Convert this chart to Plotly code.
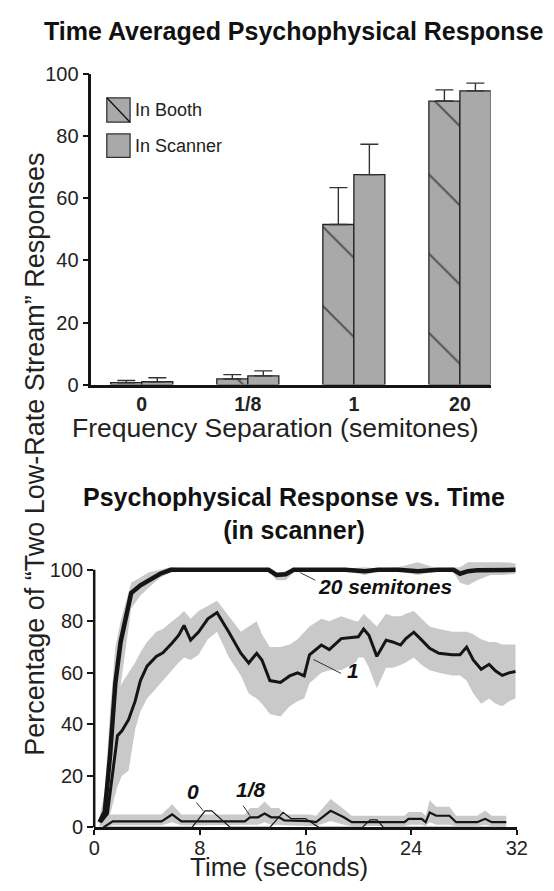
import plotly.graph_objects as go

W, H = 554, 891
FONT = "Liberation Sans, Arial, sans-serif"

# ---------------- data: top bar chart ----------------
categories = ["0", "1/8", "1", "20"]
booth = [0.6, 1.8, 51.6, 91.4]
booth_err = [0.7, 1.4, 11.9, 3.6]
scanner = [0.9, 2.8, 67.7, 94.7]
scanner_err = [1.3, 1.6, 9.8, 2.5]

# ---------------- data: time courses ----------------
t20 = [0.4, 0.8, 1.2, 1.6, 2.0, 2.8, 3.5, 4.1, 5.0, 5.8, 7, 9, 11, 13.2, 13.8, 14.5, 15.1, 15.7,
       17, 19, 20.5, 21.5, 23, 24.5, 26, 27.2, 27.7, 28.3, 29, 30, 31, 31.9]
v20 = [2, 6, 28, 56, 72, 91, 94, 96, 98.5, 100, 100, 100, 100, 100, 98, 98.3, 100, 100,
       100, 100, 99.5, 100, 100, 99.5, 100, 100, 98.5, 99.5, 99.8, 100, 100, 100]
lo20 = [0, 2, 10, 35, 55, 85, 90, 93, 97, 99, 99.5, 99.5, 99.5, 99.5, 96, 96, 99, 99.5,
        99.5, 99.5, 98, 99.5, 99.5, 98, 99.5, 99, 95, 94, 96, 98, 98, 98.5]
hi20 = [4, 14, 45, 70, 80, 95, 97, 99, 100, 101, 100.5, 100.5, 100.5, 100.5, 99, 99.5, 100.5, 100.5,
        100.5, 100.5, 101, 100.5, 101, 103, 100.5, 101, 101, 103, 103, 103, 103, 102.5]

t1 = [0.5, 1.0, 1.76, 2.1, 2.6, 3.1, 3.5, 4.0, 4.7, 5.2, 5.9, 6.4, 6.8, 7.3, 7.9, 8.6, 9.3,
      10.2, 11.1, 11.7, 12.3, 12.7, 13.3, 14.1, 14.8, 15.4, 15.9, 16.3, 17.2, 17.8, 18.7,
      19.8, 20.0, 20.4, 20.8, 21.4, 22.1, 22.6, 23.2, 23.6, 24.2, 24.8, 25.4, 26.1, 27.1,
      27.7, 28.2, 28.7, 29.3, 29.9, 30.4, 30.9, 31.4, 31.9]
v1 = [2, 5.3, 35.6, 37.5, 41.8, 49, 57, 62.6, 66.4, 67.8, 71.6, 74.6, 78.4, 72.7, 75.8, 81, 83.4,
      75.8, 67.6, 63.8, 67.6, 65, 57, 56.3, 58.8, 60, 58.8, 67, 70.8, 69, 73.3,
      73.9, 74, 77, 74.6, 66.4, 72.7, 72, 70.8, 73.3, 75.8, 72.7, 69.5, 67.6, 67,
      67, 70, 65, 61.4, 63.3, 60.7, 59, 60, 60.5]
lo1 = [0, 1, 16, 20, 22, 38, 45, 50, 54, 57, 61, 64, 66, 65, 67, 73, 76,
       66, 59, 52, 50, 48, 44, 43, 47, 49, 50, 56, 60, 61, 61,
       64, 66, 66, 62, 54, 62, 62, 63, 64, 66, 63, 61, 60, 59,
       59, 57, 52, 48, 50, 48, 47, 49, 50]
hi1 = [4, 12, 52, 56, 60, 64, 68, 72, 76, 77, 80, 82, 84, 81, 84, 86, 88,
       82, 76, 78, 80, 75, 70, 70, 71, 73, 76, 78, 81, 80, 82,
       80, 80, 83, 81, 78, 83, 82, 82, 83, 84, 81, 78, 77, 76,
       76, 76, 75, 73, 72, 72, 71, 71, 71]

t8 = [0.7, 1.4, 5.1, 5.9, 6.6, 11.4, 11.8, 12.4, 12.9, 13.4, 14.0, 14.4, 16.3, 16.8, 17.9,
      18.9, 19.5, 23.5, 23.8, 24.8, 25.1, 25.4, 25.9, 26.9, 27.4, 29.0, 29.6, 30.1, 31.2]
v8 = [0, 2.3, 2.3, 5, 2.3, 2.3, 3.9, 3.9, 5.4, 3.9, 3.9, 2.7, 2.4, 2.0, 6.4,
      3.9, 2.0, 2.0, 3.3, 3.3, 2.0, 5.8, 4.5, 4.5, 2.0, 2.0, 3.3, 2.0, 2.0]
lo8 = [0, 0.8, 0.8, 2, 0.8, 0.8, 1, 1, 2, 1, 1, 0.8, 0.5, 0.5, 2.5,
       1, 0.5, 0.5, 1, 1, 0.5, 2, 1, 1, 0.5, 0.5, 1, 0.5, 0.5]
hi8 = [5, 5, 5, 9, 5, 5, 7.5, 7.5, 10, 7.5, 7.5, 5, 5, 4.5, 11,
       7, 4.5, 4.5, 6, 6, 4.5, 10.5, 8, 8, 4.5, 4.5, 6.5, 4.5, 4.5]

t0 = [0.7, 7.4, 8.4, 8.9, 10.3, 13.3, 14.3, 14.9, 16.0, 17.0, 20.3, 20.9, 21.4, 21.9, 31.2]
v0 = [0, 0, 6.4, 6.4, 0, 0, 5.8, 3.4, 3.4, 0, 0, 2.9, 2.9, 0, 0]

time_ticks = [0, 8, 16, 24, 32]
pct_ticks = [0, 20, 40, 60, 80, 100]


def px(x):
    return x / W


def py(y):
    return 1 - y / H


BAR_GRAY = "#a9a9a9"
BAND = "#c9c9c9"
INK = "#151515"

fig = go.Figure()

# ---------------- top chart ----------------
fig.add_trace(go.Bar(
    x=categories, y=booth, name="In Booth", xaxis="x", yaxis="y", showlegend=False,
    error_y=dict(type="data", array=booth_err, arrayminus=[0 for _ in booth], symmetric=False,
                 color="#333", thickness=1.4, width=9),
    marker=dict(color=BAR_GRAY, line=dict(color="#222", width=1.3),
                pattern=dict(shape="\\", fgcolor="#000000", bgcolor=BAR_GRAY, size=56, solidity=0.035)),
))
fig.add_trace(go.Bar(
    x=categories, y=scanner, name="In Scanner", xaxis="x", yaxis="y", showlegend=False,
    error_y=dict(type="data", array=scanner_err, arrayminus=[0 for _ in scanner], symmetric=False,
                 color="#333", thickness=1.4, width=9),
    marker=dict(color=BAR_GRAY, line=dict(color="#222", width=1.3)),
))

# ---------------- bottom chart ----------------
def band(t, lo, hi):
    fig.add_trace(go.Scatter(x=t, y=lo, mode="lines", line=dict(width=0), xaxis="x2", yaxis="y2",
                             showlegend=False, hoverinfo="skip"))
    fig.add_trace(go.Scatter(x=t, y=hi, mode="lines", line=dict(width=0), fill="tonexty",
                             fillcolor=BAND, xaxis="x2", yaxis="y2", showlegend=False, hoverinfo="skip"))


band(t1, lo1, hi1)
band(t20, lo20, hi20)
band(t8, lo8, hi8)

fig.add_trace(go.Scatter(x=t0, y=v0, mode="lines", line=dict(color=INK, width=1.2),
                         xaxis="x2", yaxis="y2", showlegend=False, name="0"))
fig.add_trace(go.Scatter(x=t8, y=v8, mode="lines", line=dict(color=INK, width=2.2),
                         xaxis="x2", yaxis="y2", showlegend=False, name="1/8"))
fig.add_trace(go.Scatter(x=t1, y=v1, mode="lines", line=dict(color=INK, width=3),
                         xaxis="x2", yaxis="y2", showlegend=False, name="1"))
fig.add_trace(go.Scatter(x=t20, y=v20, mode="lines", line=dict(color=INK, width=4.5),
                         xaxis="x2", yaxis="y2", showlegend=False, name="20 semitones"))

axis_common = dict(showgrid=False, zeroline=False, linecolor=INK, linewidth=2.5,
                   tickfont=dict(family=FONT, size=20, color="#222"))

fig.update_layout(
    width=W, height=H, margin=dict(l=0, r=0, t=0, b=0),
    paper_bgcolor="white", plot_bgcolor="white",
    barmode="group", bargap=0.415, bargroupgap=0,
    font=dict(family=FONT, color="#222"),
    xaxis=dict(axis_common, domain=[px(88), px(500)], range=[-0.476, 3.29], showline=True,
               ticks="", tickfont=dict(family=FONT, size=19.5, color="#222", weight="bold"),
               anchor="y"),
    yaxis=dict(axis_common, domain=[py(383), py(65)], range=[0, 100], showline=True,
               ticks="outside", ticklen=6, tickwidth=2, tickcolor=INK, tickvals=pct_ticks,
               anchor="x"),
    xaxis2=dict(axis_common, domain=[px(91), px(527)], range=[0, 32], showline=True,
                ticks="outside", ticklen=5, tickwidth=2, tickcolor=INK, tickvals=time_ticks,
                ticklabelstandoff=-4, anchor="y2"),
    yaxis2=dict(axis_common, domain=[py(837), py(559.8)], range=[0, 105], showline=False,
                ticks="outside", ticklen=6, tickwidth=2, tickcolor=INK, tickvals=pct_ticks,
                anchor="x2"),
)

shapes = [
    # bottom y-axis line (stops at 100)
    dict(type="line", xref="x2 domain", yref="y2", x0=0, x1=0, y0=0, y1=100,
         line=dict(color=INK, width=2.5)),
    # legend swatches
    dict(type="rect", xref="paper", yref="paper", x0=px(104), x1=px(128), y0=py(114), y1=py(89),
         fillcolor=BAR_GRAY, line=dict(color="#333", width=1.3)),
    dict(type="line", xref="paper", yref="paper", x0=px(104), x1=px(128), y0=py(89), y1=py(114),
         line=dict(color="#111", width=1.3)),
    dict(type="rect", xref="paper", yref="paper", x0=px(104), x1=px(128), y0=py(150), y1=py(126),
         fillcolor=BAR_GRAY, line=dict(color="#333", width=1.3)),
]
fig.update_layout(shapes=shapes)

ann = []
bold = dict(family=FONT, size=25, color="#111", weight="bold")
ann.append(dict(text="Time Averaged Psychophysical Response", x=px(297), y=py(21), xref="paper",
                yref="paper", showarrow=False, font=bold, xanchor="center", yanchor="middle"))
ann.append(dict(text="Psychophysical Response vs. Time<br>(in scanner)", x=px(297), y=py(515),
                xref="paper", yref="paper", showarrow=False, font=bold, xanchor="center",
                yanchor="middle"))
ann.append(dict(text="Percentage of “Two Low-Rate Stream” Responses", x=px(30), y=py(455),
                xref="paper", yref="paper", showarrow=False, textangle=-90,
                font=dict(family=FONT, size=27, color="#222"), xanchor="center", yanchor="middle"))
ann.append(dict(text="Frequency Separation (semitones)", x=px(278), y=py(428), xref="paper",
                yref="paper", showarrow=False, font=dict(family=FONT, size=26.5, color="#222"),
                xanchor="center", yanchor="middle"))
ann.append(dict(text="Time (seconds)", x=px(282), y=py(878), xref="paper", yref="paper",
                showarrow=False, font=dict(family=FONT, size=26, color="#222"),
                xanchor="center", yanchor="middle"))
leg_font = dict(family=FONT, size=18, color="#222")
ann.append(dict(text="In Booth", x=px(131), y=py(102), xref="paper", yref="paper",
                showarrow=False, font=leg_font, xanchor="left", yanchor="middle"))
ann.append(dict(text="In Scanner", x=px(131), y=py(138), xref="paper", yref="paper",
                showarrow=False, font=leg_font, xanchor="left", yanchor="middle"))

lab_font = dict(family=FONT, size=21, color="#111", weight="bold", style="italic")
# curve labels (data coordinates)
ann.append(dict(text="20 semitones", x=16.8, y=93.5, xref="x2", yref="y2", showarrow=False,
                font=lab_font, xanchor="left", yanchor="middle"))
ann.append(dict(text="1", x=19.6, y=61, xref="x2", yref="y2", showarrow=False,
                font=lab_font, xanchor="center", yanchor="middle"))
ann.append(dict(text="0", x=7.45, y=14, xref="x2", yref="y2", showarrow=False,
                font=lab_font, xanchor="center", yanchor="middle"))
ann.append(dict(text="1/8", x=11.9, y=14.5, xref="x2", yref="y2", showarrow=False,
                font=lab_font, xanchor="center", yanchor="middle"))
# leader lines
leaders = [((15.6, 98.9), (16.85, 95.7)), ((16.6, 65.2), (18.8, 59.5)),
           ((8.26, 6.4), (7.65, 10.2)), ((11.8, 4.5), (11.2, 9.0))]
for (x0, y0), (x1, y1) in leaders:
    ann.append(dict(text="", x=x0, y=y0, ax=x1, ay=y1, xref="x2", yref="y2", axref="x2",
                    ayref="y2", showarrow=True, arrowhead=0, arrowwidth=1, arrowcolor="#333",
                    standoff=0, startstandoff=0))
fig.update_layout(annotations=ann)

fig.write_html("out.html", config={"displayModeBar": False},
               post_script="document.body.style.margin='0px';document.body.style.overflow='hidden';")
